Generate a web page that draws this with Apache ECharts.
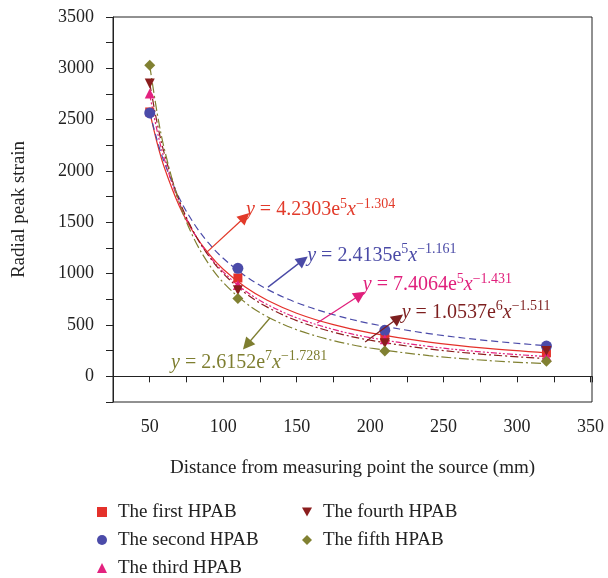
<!DOCTYPE html>
<html>
<head>
<meta charset="utf-8">
<script src="https://cdn.jsdelivr.net/npm/echarts@6/dist/echarts.min.js"></script>
<style>
html, body { margin: 0; padding: 0; background: #fff; }
#chart { width: 608px; height: 578px; }
</style>
</head>
<body>
<div id="chart"></div>
<script>
// measured points
const seriesNames = ['The first HPAB', 'The second HPAB', 'The third HPAB', 'The fourth HPAB', 'The fifth HPAB'];
const pointX = [50, 110, 210, 320];
const firstPts = [2575, 958, 380, 229];
const secondPts = [2566, 1052, 448, 295];
const thirdPts = [2755, 890, 360, 196];
const fourthPts = [2853, 838, 322, 246];
const fifthPts = [3031, 757, 247, 146];

// fitted curves
const fitX = [50, 55, 60, 70, 80, 90, 100, 115, 130, 150, 175, 200, 240, 280, 320];
const fitFirst = [2576, 2275, 2031, 1661, 1396, 1197, 1043, 870, 741, 615, 503, 423, 333, 272, 229];
const fitSecond = [2571, 2302, 2081, 1740, 1490, 1299, 1150, 978, 848, 718, 601, 514, 416, 348, 298];
const fitThird = [2744, 2394, 2114, 1695, 1401, 1183, 1018, 833, 699, 570, 457, 377, 291, 233, 193];
const fitFourth = [2855, 2472, 2167, 1717, 1403, 1175, 1002, 811, 674, 543, 430, 352, 267, 211, 173];
const fitFifth = [3030, 2570, 2211, 1694, 1345, 1097, 915, 719, 581, 454, 348, 276, 202, 154, 123];

// equation labels
const eqCoef = ['4.2303', '2.4135', '7.4064', '1.0537', '2.6152'];
const eqExp = ['5', '5', '5', '6', '7'];
const eqPow = ['\u22121.304', '\u22121.161', '\u22121.431', '\u22121.511', '\u22121.7281'];

// annotation anchors (data coords): arrow tail, arrow head, text start
const arrowTail = [[88.9, 1210], [130.5, 869], [163.9, 519], [196.6, 334], [131.8, 568]];
const arrowHead = [[114.8, 1551], [154.3, 1132], [193.2, 792], [219.1, 568], [116.1, 305]];
const textAt = [[115.5, 1620], [157.2, 1175], [195.0, 890], [221.5, 620], [64.5, 135]];

const colors = ['#e4312b', '#4b4ba9', '#e3227f', '#8b1d1d', '#818132'];
const eqColors = ['#e23a2a', '#4a4aa6', '#e0207c', '#7d1f1f', '#7e7e30'];
const symbols = ['rect', 'circle', 'triangle', 'path://M0,0L10,0L5,9Z', 'diamond'];
const symbolSizes = [9, 11, 10, 10, 11];
const dashTypes = ['solid', [7, 4], [6, 2, 2, 2, 2, 2], [8, 3, 2, 3], [10, 3, 2, 3]];

const FONT = '"Liberation Serif", "DejaVu Serif", serif';
const pts = [firstPts, secondPts, thirdPts, fourthPts, fifthPts];
const fits = [fitFirst, fitSecond, fitThird, fitFourth, fitFifth];

const chart = echarts.init(document.getElementById('chart'));

const lineSeries = fits.map((vals, i) => {
    const c = eqColors[i];
    return {
        name: 'fit' + (i + 1),
        type: 'line',
        data: fitX.map((x, k) => [x, vals[k]]),
        smooth: 0.35,
        showSymbol: false,
        z: 2,
        lineStyle: {color: colors[i], width: 1.2, type: dashTypes[i]},
        markLine: {
            silent: true,
            symbol: ['none', 'triangle'],
            symbolSize: [12, 12],
            label: {show: false},
            itemStyle: {color: c},
            lineStyle: {color: c, type: 'solid', width: 1.3, opacity: 1},
            data: [[{coord: arrowTail[i]}, {coord: arrowHead[i]}]],
        },
        markPoint: {
            silent: true,
            symbol: 'circle',
            symbolSize: 0,
            data: [{coord: textAt[i]}],
            label: {
                show: true,
                position: 'right',
                distance: 0,
                color: c,
                fontFamily: FONT,
                fontSize: 20,
                lineHeight: 26,
                formatter: '{i|y}{n| = ' + eqCoef[i] + 'e}{s|' + eqExp[i] + '}{i|x}{s|' + eqPow[i] + '}',
                rich: {
                    i: {fontStyle: 'italic', fontSize: 20, fontFamily: FONT, color: c},
                    n: {fontSize: 20, fontFamily: FONT, color: c},
                    s: {fontSize: 14, fontFamily: FONT, color: c, verticalAlign: 'top'},
                },
            },
        },
    };
});

const scatterSeries = pts.map((vals, i) => ({
    name: seriesNames[i],
    type: 'scatter',
    data: pointX.map((x, k) => [x, vals[k]]),
    symbol: symbols[i],
    symbolSize: symbolSizes[i],
    z: 3,
    itemStyle: {color: colors[i], opacity: 1},
}));

const legendText = {fontFamily: FONT, fontSize: 19, color: '#222', lineHeight: 20, padding: [0, 0, 0, 6]};

const option = {
    animation: false,
    grid: {left: 113, right: 16, top: 17, bottom: 176, show: true, borderColor: '#222', borderWidth: 1},
    xAxis: {
        type: 'value',
        min: 25,
        max: 351,
        interval: 25,
        name: 'Distance from measuring point the source (mm)',
        nameLocation: 'middle',
        nameGap: 57,
        nameTextStyle: {fontFamily: FONT, fontSize: 19, color: '#222'},
        axisLine: {lineStyle: {color: '#222'}},
        axisTick: {length: 6, lineStyle: {color: '#222'}},
        axisLabel: {
            fontFamily: FONT, fontSize: 18, color: '#222', margin: 16,
            formatter: v => (v % 50 === 0 ? String(v) : ''),
        },
        splitLine: {show: false},
    },
    yAxis: {
        type: 'value',
        min: -250,
        max: 3500,
        interval: 250,
        name: 'Radial peak strain',
        nameLocation: 'middle',
        nameGap: 84,
        nameTextStyle: {fontFamily: FONT, fontSize: 19, color: '#222'},
        axisLine: {show: true, lineStyle: {color: '#222'}},
        axisTick: {show: true, length: 7, lineStyle: {color: '#222'}},
        axisLabel: {
            fontFamily: FONT, fontSize: 18, color: '#222', margin: 19,
            formatter: v => (v >= 0 && v % 500 === 0 ? String(v) : ''),
        },
        splitLine: {show: false},
    },
    legend: [
        {
            orient: 'vertical', left: 97, top: 502, padding: 0, itemGap: 8, itemWidth: 10, itemHeight: 10,
            data: seriesNames.slice(0, 3), textStyle: legendText,
        },
        {
            orient: 'vertical', left: 302, top: 502, padding: 0, itemGap: 8, itemWidth: 10, itemHeight: 10,
            data: seriesNames.slice(3), textStyle: legendText,
        },
    ],
    series: [...lineSeries, ...scatterSeries],
};

chart.setOption(option);
</script>
</body>
</html>
